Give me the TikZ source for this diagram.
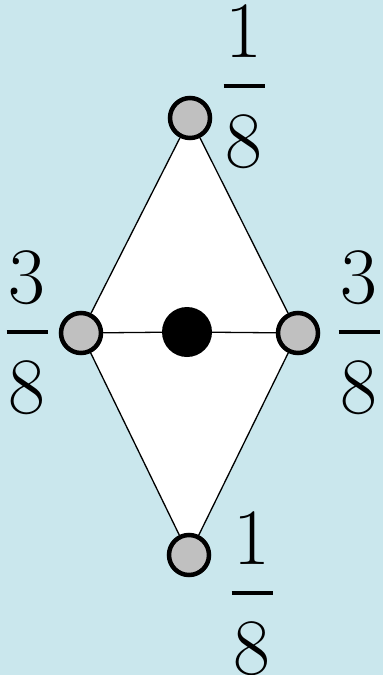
\documentclass[tikz,border=0pt]{standalone}

\definecolor{sky}{RGB}{202,231,237}
\definecolor{stone}{RGB}{192,192,192}

\tikzset{
  site/.style={circle, draw=black, fill=stone, line width=4.5pt, minimum size=40pt, inner sep=0pt},
  centre/.style={circle, fill=black, minimum size=50pt, inner sep=0pt},
  edge/.style={black, line width=1.3pt},
  digit/.style={anchor=base, inner sep=0pt, font=\fontsize{80}{82}\selectfont},
  bar/.style={black, line width=3.5pt}
}

\begin{document}
\begin{tikzpicture}[x=1pt, y=-1pt]
    \fill[sky] (0,0) rectangle (383,675);
    \useasboundingbox (0,0) rectangle (383,675);

    % Sommets
    \coordinate (p1) at (190,118);
    \coordinate (p2) at (81,333);
    \coordinate (p3) at (298,333);
    \coordinate (p4) at (189,555);
    \fill[white] (p1) -- (p3) -- (p4) -- (p2) -- cycle;

    \node[site] (top) at (p1) {};
    \node[site] (lft) at (p2) {};
    \node[site] (rgt) at (p3) {};
    \node[site] (bot) at (p4) {};
    \node[centre] (mid) at (187,332) {};

    \draw[edge] (top) -- (lft);
    \draw[edge] (top) -- (rgt);
    \draw[edge] (bot) -- (lft);
    \draw[edge] (bot) -- (rgt);
    \draw[edge] (lft) -- (mid) -- (rgt);

    % Poids
    \foreach \nm/\x/\y/\num in {wt/244/86/1, wl/27/332/3, wr/359/332/3, wb/252/593/1} {
        \node[digit] (\nm-n) at (\x,\y-29) {\num};
        \node[digit] (\nm-d) at (\x,\y+81) {8};
        \draw[bar] (\x-20.5,\y) -- (\x+20.5,\y);
    }
\end{tikzpicture}
\end{document}
